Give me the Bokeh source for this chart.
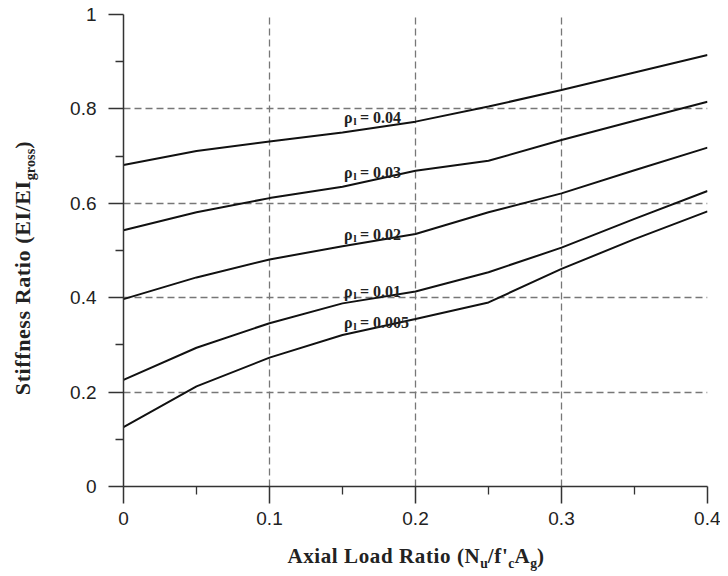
import math
from bokeh.plotting import figure
from bokeh.models import Label, FixedTicker, Div
from bokeh.layouts import row, column
from bokeh.embed import file_html
from bokeh.resources import INLINE

# ---------------- data ----------------
axial_load_ratio = [0, 0.05, 0.1, 0.15, 0.2, 0.25, 0.3, 0.35, 0.4]
rho_values = ["0.04", "0.03", "0.02", "0.01", "0.005"]
stiffness_004 = [0.681, 0.711, 0.731, 0.750, 0.773, 0.805, 0.840, 0.877, 0.914]
stiffness_003 = [0.543, 0.581, 0.611, 0.635, 0.669, 0.690, 0.734, 0.775, 0.815]
stiffness_002 = [0.397, 0.443, 0.481, 0.509, 0.535, 0.581, 0.621, 0.670, 0.718]
stiffness_001 = [0.226, 0.294, 0.346, 0.388, 0.413, 0.454, 0.506, 0.567, 0.626]
stiffness_0005 = [0.126, 0.212, 0.273, 0.321, 0.355, 0.390, 0.461, 0.524, 0.583]

x_ticks = [0, 0.1, 0.2, 0.3, 0.4]
x_tick_labels = ["0", "0.1", "0.2", "0.3", "0.4"]
x_minor_ticks = [0.05, 0.15, 0.25, 0.35]
y_ticks = [0, 0.2, 0.4, 0.6, 0.8, 1.0]
y_tick_labels = ["0", "0.2", "0.4", "0.6", "0.8", "1"]
y_minor_ticks = [0.1, 0.3, 0.5, 0.7, 0.9]

x_title_html = "Axial Load Ratio (N<sub>u</sub>/f'<sub>c</sub>A<sub>g</sub>)"
y_title_html = "Stiffness Ratio (EI/EI<sub>gross</sub>)"

# label anchor positions (data units)
label_x = 0.151
label_y = [0.781, 0.665, 0.533, 0.413, 0.347]

series = [stiffness_004, stiffness_003, stiffness_002, stiffness_001, stiffness_0005]

SERIF = "Liberation Serif"
SANS = "Liberation Sans"
TXT = "#222222"

p = figure(width=680, height=536, output_backend="svg", toolbar_location=None,
           x_range=(0, 0.4), y_range=(0, 1.0),
           min_border_left=83, min_border_right=13, min_border_top=14,
           min_border_bottom=50, margin=0)
p.outline_line_color = None
p.background_fill_color = "white"
p.border_fill_color = "white"

# axes
for ax, ticks, minor, labels, mo, mi in [
        (p.xaxis[0], x_ticks, x_minor_ticks, x_tick_labels, 17, 8),
        (p.yaxis[0], y_ticks, y_minor_ticks, y_tick_labels, 15, 8)]:
    ax.ticker = FixedTicker(ticks=ticks, minor_ticks=minor)
    ax.major_label_overrides = {t: l for t, l in zip(ticks, labels)}
    ax.axis_line_color = "#333333"
    ax.axis_line_width = 1.5
    ax.major_tick_line_color = "#333333"
    ax.major_tick_line_width = 1.5
    ax.minor_tick_line_color = "#333333"
    ax.minor_tick_line_width = 1.3
    ax.major_tick_in = 0
    ax.major_tick_out = mo
    ax.minor_tick_in = 0
    ax.minor_tick_out = mi
    ax.major_label_text_font = SANS
    ax.major_label_text_font_size = "19px"
    ax.major_label_text_color = TXT
p.xaxis.major_label_standoff = 8
p.yaxis.major_label_standoff = 12

# grid
for g in (p.xgrid[0], p.ygrid[0]):
    g.grid_line_color = "#777777"
    g.grid_line_dash = "7 4"
    g.grid_line_width = 1.3

# curves
for ys in series:
    p.line(axial_load_ratio, ys, line_color="#111111", line_width=2)

# curve labels: rho_l = value
for val, ly in zip(rho_values, label_y):
    p.add_layout(Label(x=label_x, y=ly, text="ρ", text_font=SERIF,
                       text_font_style="bold", text_font_size="16px",
                       text_color=TXT, text_baseline="alphabetic", text_align="left"))
    p.add_layout(Label(x=label_x, y=ly - 3 / 472, x_offset=9.5, text="l", text_font=SERIF,
                       text_font_style="bold", text_font_size="11px",
                       text_color=TXT, text_baseline="alphabetic", text_align="left"))
    p.add_layout(Label(x=label_x, y=ly, x_offset=16, text="= " + val, text_font=SERIF,
                       text_font_style="bold", text_font_size="16px",
                       text_color=TXT, text_baseline="alphabetic", text_align="left"))

font_css = ("font-family:'Liberation Serif',serif;font-weight:bold;color:#222222;"
            "white-space:nowrap;letter-spacing:0.6px;")
sub_css = "<sub style=\"font-size:0.65em;line-height:0;letter-spacing:0;\">"

y_html = ('<div style="position:relative;width:40px;height:536px;">'
          '<div style="position:absolute;left:23px;top:268px;'
          'transform:translate(-50%,-50%) rotate(-90deg);font-size:22px;line-height:22px;'
          + font_css + '">' + y_title_html.replace("<sub>", sub_css) + '</div></div>')
x_html = ('<div style="position:relative;width:720px;height:32px;">'
          '<div style="position:absolute;left:416px;top:10px;'
          'transform:translateX(-50%);font-size:21px;line-height:21px;'
          + font_css + '">' + x_title_html.replace("<sub>", sub_css) + '</div></div>')

ydiv = Div(text=y_html, width=40, height=536, margin=0)
xdiv = Div(text=x_html, width=720, height=32, margin=0)

layout = column(row(ydiv, p, spacing=0, margin=0), xdiv, spacing=0, margin=0)

open("out.html", "w").write(file_html(layout, INLINE))
